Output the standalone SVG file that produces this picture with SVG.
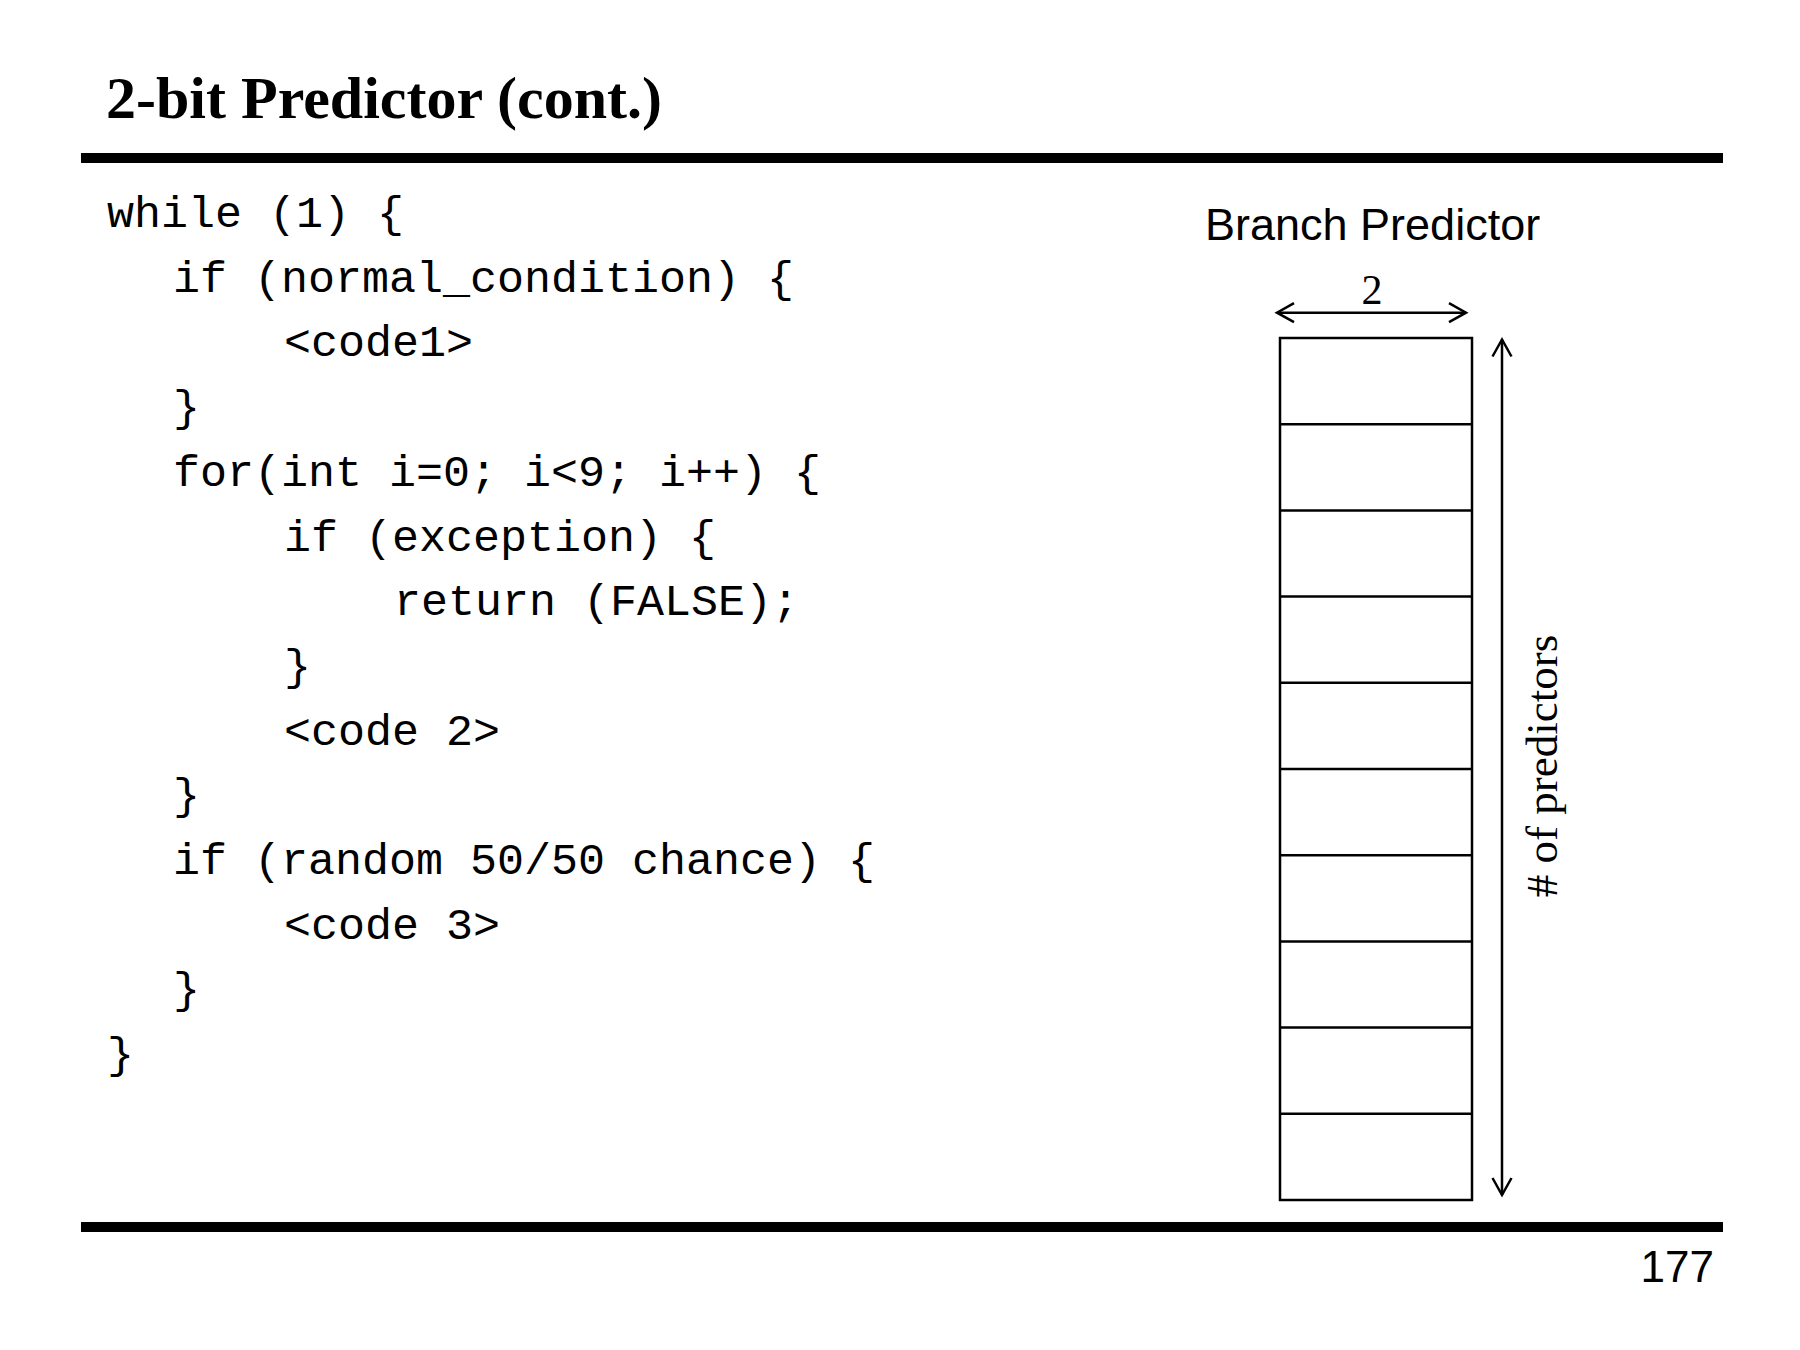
<svg xmlns="http://www.w3.org/2000/svg" width="1800" height="1350" viewBox="0 0 1800 1350">
<style>
.title{font-family:"Liberation Serif","Times New Roman",serif;font-weight:bold;font-size:60px;fill:#000}
.code{font-family:"Liberation Mono","Courier New",monospace;font-size:45px;fill:#000;white-space:pre}
.sans{font-family:"Liberation Sans",Arial,sans-serif;font-size:44px;fill:#000}
.heading{font-size:45px}
.serif{font-family:"Liberation Serif","Times New Roman",serif;fill:#000}
.rule{fill:#000}
.cell{fill:#fff;stroke:#000;stroke-width:2.5}
.div{stroke:#000;stroke-width:2.5}
.arrow{stroke:#000;stroke-width:2.5;fill:none;marker-start:url(#head);marker-end:url(#head)}
</style>
<defs>
<marker id="head" markerUnits="userSpaceOnUse" markerWidth="40" markerHeight="40" viewBox="-20 -20 40 40" refX="0" refY="0" orient="auto-start-reverse" overflow="visible">
<path d="M-17,-9.5 L0,0 L-17,9.5" fill="none" stroke="#000" stroke-width="2.5" stroke-linejoin="miter"/>
</marker>
</defs>
<rect width="1800" height="1350" fill="#fff"/>
<g id="header">
<text class="title" x="106" y="118">2-bit Predictor (cont.)</text>
<rect class="rule" x="81" y="153" width="1642" height="10"/>
</g>
<g id="code">
<text class="code" x="107" y="227">while (1) {</text>
<text class="code" x="173" y="291.7">if (normal_condition) {</text>
<text class="code" x="284" y="356.4">&lt;code1&gt;</text>
<text class="code" x="173" y="421.1">}</text>
<text class="code" x="173" y="485.8">for(int i=0; i&lt;9; i++) {</text>
<text class="code" x="284" y="550.5">if (exception) {</text>
<text class="code" x="394" y="615.2">return (FALSE);</text>
<text class="code" x="284" y="679.9">}</text>
<text class="code" x="284" y="744.6">&lt;code 2&gt;</text>
<text class="code" x="173" y="809.3">}</text>
<text class="code" x="173" y="874">if (random 50/50 chance) {</text>
<text class="code" x="284" y="938.7">&lt;code 3&gt;</text>
<text class="code" x="173" y="1003.4">}</text>
<text class="code" x="107" y="1068.1">}</text>
</g>
<g id="branch-predictor">
<text class="sans heading" x="1205" y="240">Branch Predictor</text>
<rect class="cell" x="1280" y="338" width="192" height="862"/>
<line class="div" x1="1280" y1="424.2" x2="1472" y2="424.2"/>
<line class="div" x1="1280" y1="510.4" x2="1472" y2="510.4"/>
<line class="div" x1="1280" y1="596.6" x2="1472" y2="596.6"/>
<line class="div" x1="1280" y1="682.8" x2="1472" y2="682.8"/>
<line class="div" x1="1280" y1="769" x2="1472" y2="769"/>
<line class="div" x1="1280" y1="855.2" x2="1472" y2="855.2"/>
<line class="div" x1="1280" y1="941.4" x2="1472" y2="941.4"/>
<line class="div" x1="1280" y1="1027.6" x2="1472" y2="1027.6"/>
<line class="div" x1="1280" y1="1113.8" x2="1472" y2="1113.8"/>
</g>
<g id="connectors">
<line class="arrow" x1="1277" y1="312.7" x2="1466" y2="312.7"/>
<line class="arrow" x1="1502" y1="339.5" x2="1502" y2="1195"/>
</g>
<g id="labels">
<text class="serif" x="1372" y="304" font-size="42" text-anchor="middle">2</text>
<text class="serif" x="0" y="0" font-size="45" text-anchor="middle" transform="translate(1557,766) rotate(-90)"># of predictors</text>
</g>
<g id="footer">
<rect class="rule" x="81" y="1222" width="1642" height="10"/>
<text class="sans" x="1714" y="1282" text-anchor="end">177</text>
</g>
</svg>
